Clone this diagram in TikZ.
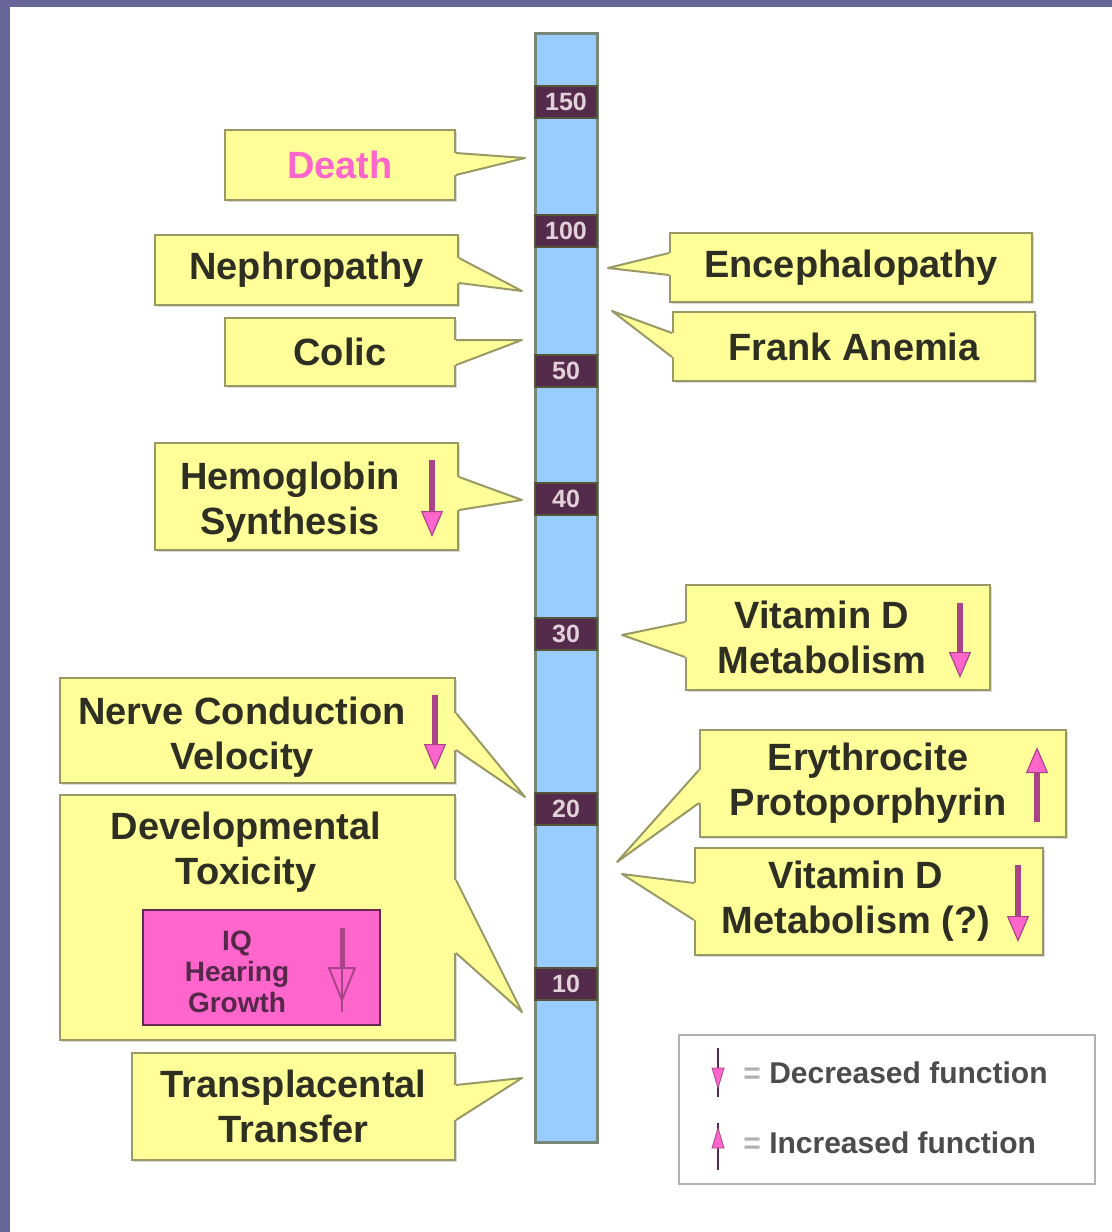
\documentclass[tikz,border=0pt]{standalone}
\usepackage{fontspec}
\setmainfont{Liberation Sans}
\usepackage{xcolor}
\usepackage{tikz}
\usetikzlibrary{arrows.meta,positioning,calc,shadows}

\definecolor{frame}{HTML}{666699}
\definecolor{barblue}{HTML}{99CCFF}
\definecolor{barline}{HTML}{778877}
\definecolor{tickfill}{HTML}{552B4B}
\definecolor{tickline}{HTML}{55553A}
\definecolor{ticktext}{HTML}{E2D0DA}
\definecolor{callfill}{HTML}{FFFF99}
\definecolor{callline}{HTML}{999966}
\definecolor{calltext}{HTML}{2E2E22}
\definecolor{hotpink}{HTML}{FF66CC}
\definecolor{darkpink}{HTML}{AA4488}
\definecolor{iqtext}{HTML}{55284A}

\begin{document}
\begin{tikzpicture}[x=0.5pt, y=-0.5pt,
  callbox/.style={draw=callline, fill=callfill, line width=1pt, inner sep=0pt,
                  drop shadow={shadow xshift=0.8pt, shadow yshift=-1pt, fill=black!25, opacity=0.6}},
  ptr/.style={draw=callline, line width=1pt, line join=round},
  txt/.style={align=center, text=calltext, inner sep=0pt,
              font=\fontsize{19}{22.5}\selectfont\bfseries},
  tick/.style={fill=tickfill, draw=tickline, line width=1pt, inner sep=0pt,
               minimum width=31pt, minimum height=16pt, text=ticktext,
               font=\fontsize{12.5}{12.5}\selectfont\bfseries},
  fnarr/.style={draw=darkpink, line width=3pt,
                -{Triangle[width=11pt, length=13pt, fill=hotpink, line width=0.6pt]}},
  legtxt/.style={anchor=west, inner sep=0pt, text=black!70,
                 font=\fontsize{15}{15}\selectfont\bfseries}]

\useasboundingbox (0,0) rectangle (1112,1232);
\fill[frame] (0,0) rectangle (1112,7);
\fill[frame] (0,0) rectangle (10,1232);

% the blood lead scale
\node[draw=barline, fill=barblue, line width=1.5pt, inner sep=0pt,
      minimum width=31pt, minimum height=554.5pt] (bar) at (566,587.5) {};
\foreach \v/\y in {150/101.5,100/230.5,50/370.5,40/499,30/634,20/808.5,10/984}
  \node[tick] (t\v) at (bar.center |- 0,\y) {\v};

% pointer tips
\coordinate (pdeath) at (525,158);
\coordinate (pneph) at (522,291);
\coordinate (pcolic) at (522,340);
\coordinate (phemo) at (522,500);
\coordinate (pnerve) at (525,797);
\coordinate (pdevtox) at (522,1012);
\coordinate (ptranspl) at (522,1078);
\coordinate (penceph) at (608,268);
\coordinate (pfrank) at (612,311);
\coordinate (pvitd) at (622,635);
\coordinate (peryth) at (617,862);
\coordinate (pvitdq) at (622,874);

% left side
\node[callbox, txt, text=hotpink, minimum width=115pt, minimum height=35pt] (death) at (340,165) {Death};
\node[callbox, txt, minimum width=151.5pt, minimum height=35pt] (neph) at (306.5,270) {Nephropathy};
\node[callbox, txt, minimum width=115pt, minimum height=34pt] (colic) at (340,352) {Colic};
\node[callbox, minimum width=151.5pt, minimum height=53.5pt] (hemo) at (306.5,496.5) {};
\node[txt] (hemotxt) at (290,502) {Hemoglobin\\Synthesis};
\node[callbox, minimum width=197.5pt, minimum height=52.5pt] (nerve) at (257.5,730.5) {};
\node[txt] (nervetxt) at (242,737) {Nerve Conduction\\Velocity};
\node[callbox, minimum width=197.5pt, minimum height=122.5pt] (devtox) at (257.5,917.5) {};
\node[txt] (devtxt) at (246,852) {Developmental\\Toxicity};
\node[draw=darkpink!60!black, fill=hotpink, line width=1pt, inner sep=0pt,
      minimum width=118.5pt, minimum height=57.5pt] (iq) at (261.5,967.5) {};
\node[align=center, text=iqtext, inner sep=0pt, font=\fontsize{14}{15.5}\selectfont\bfseries]
      (iqtxt) at (237,972) {IQ\\Hearing\\Growth};
\node[callbox, txt, minimum width=161.5pt, minimum height=53.5pt] (transpl) at (293.5,1106.5) {Transplacental\\Transfer};

% right side
\node[callbox, txt, minimum width=181pt, minimum height=34.5pt] (enceph) at (851,267.5) {Encephalopathy};
\node[callbox, txt, minimum width=181pt, minimum height=34.5pt] (frank) at (854,346.5) {Frank Anemia};
\node[callbox, minimum width=152pt, minimum height=52.5pt] (vitd) at (838,637.5) {};
\node[txt] (vitdtxt) at (822,637) {Vitamin D\\Metabolism};
\node[callbox, minimum width=183pt, minimum height=53.5pt] (eryth) at (883,783.5) {};
\node[txt] (erythtxt) at (868,783) {Erythrocite\\Protoporphyrin};
\node[callbox, minimum width=174pt, minimum height=53.5pt] (vitdq) at (869,901.5) {};
\node[txt] (vitdqtxt) at (856,901) {Vitamin D\\Metabolism (?)};

% pointers
\foreach \n/\a/\b in {death/153/175,neph/258/283,colic/340/365,hemo/477/510,
                      nerve/713/750,devtox/880/953,transpl/1085/1120}{
  \fill[callfill] ($(\n.east |- 0,\a)+(-3,0)$) -- (\n.east |- 0,\a) -- (p\n)
    -- (\n.east |- 0,\b) -- ($(\n.east |- 0,\b)+(-3,0)$) -- cycle;
  \draw[ptr] (\n.east |- 0,\a) -- (p\n) -- (\n.east |- 0,\b);
}
\foreach \n/\a/\b in {enceph/253/275,frank/333/357,vitd/622/657,
                      eryth/770/803,vitdq/883/920}{
  \fill[callfill] ($(\n.west |- 0,\a)+(3,0)$) -- (\n.west |- 0,\a) -- (p\n)
    -- (\n.west |- 0,\b) -- ($(\n.west |- 0,\b)+(3,0)$) -- cycle;
  \draw[ptr] (\n.west |- 0,\a) -- (p\n) -- (\n.west |- 0,\b);
}

% up / down marks
\draw[fnarr] (432,460) -- (432,537);
\draw[fnarr] (435,695) -- (435,770);
\draw[fnarr] (960,603) -- (960,678);
\draw[fnarr] (1037,822) -- (1037,747);
\draw[fnarr] (1018,865) -- (1018,942);
\draw[darkpink, line width=2.5pt] (342,928) -- (342,968);
\draw[darkpink, line width=1pt, fill=hotpink, line join=round] (329,968) -- (355,968) -- (342,1000) -- cycle;
\draw[darkpink, line width=0.8pt] (342,968) -- (342,1012);

% legend
\node[draw=black!30, fill=white, line width=1pt, inner sep=0pt,
      minimum width=208pt, minimum height=74.5pt] (legend) at (887,1109.5) {};
\node[legtxt] (dec) at (743,1073) {{\color{black!30}=} Decreased function};
\node[legtxt] (inc) at (743,1143) {{\color{black!30}=} Increased function};
\draw[tickfill, line width=0.8pt] (718,1048) -- (718,1097);
\filldraw[fill=hotpink, draw=darkpink, line width=0.4pt] (712,1068) -- (724,1068) -- (718,1088) -- cycle;
\draw[tickfill, line width=0.8pt] (718,1123) -- (718,1170);
\filldraw[fill=hotpink, draw=darkpink, line width=0.4pt] (712,1148) -- (724,1148) -- (718,1128) -- cycle;
\end{tikzpicture}
\end{document}
